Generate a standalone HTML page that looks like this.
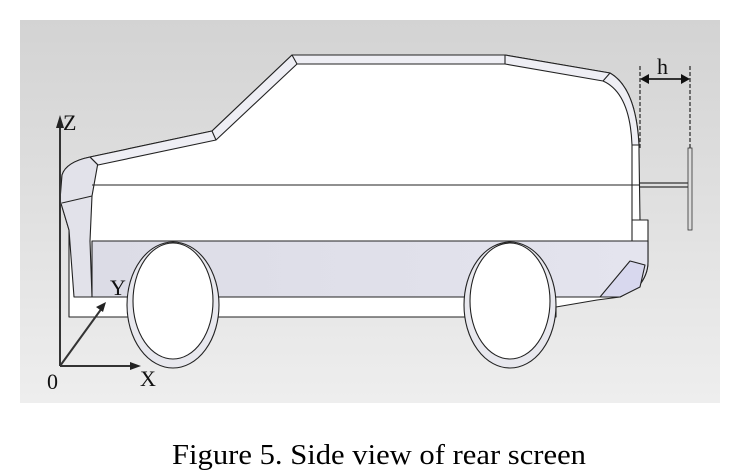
<!DOCTYPE html>
<html><head><style>
body{margin:0;width:741px;height:472px;background:#fff;overflow:hidden}
svg{position:absolute;left:0;top:0}
</style></head><body>
<svg width="741" height="472" viewBox="0 0 741 472">
<defs>
<linearGradient id="bg" x1="0" y1="0" x2="0" y2="1">
<stop offset="0" stop-color="#d3d3d3"/><stop offset="1" stop-color="#eeeeee"/></linearGradient>
<linearGradient id="gr" x1="0" y1="0" x2="1" y2="0">
<stop offset="0" stop-color="#dcdce6"/><stop offset="1" stop-color="#e4e4ee"/></linearGradient>
</defs>
<rect x="20" y="20" width="700" height="383" fill="url(#bg)"/>
<g stroke="#222" stroke-width="1.1" stroke-linejoin="round">
<path d="M292,55 L505,55 L610,73 Q636,88 639,145 L639,152 L640,220 L648,220 L648,262 Q648,275 638,287 L620,297 L597,300 L556,307 L556,317 L69,317 L69,230 L60,200 L62,175 Q66,162 90,157 L212,131 Z" fill="#fff"/>
<path d="M92,241 L648,241 L648,262 Q648,275 638,287 L620,297 L600,297 L92,297 Z" fill="url(#gr)"/>
<path d="M62,175 Q66,162 90,157 L99,157 L92,196 L90,241 L92,297 L74,297 L69,230 L60,200 Z" fill="#e2e2ea"/>
<path d="M292,55 L505,55 L610,73 Q636,88 639,145 L632,145 Q630,93 603,81 L505,64 L297,64 L216,140 L98,165 L90,157 L212,131 Z" fill="#eeeef4"/>
<path d="M297,64 L292,55 M505,64 L505,55 M603,81 L610,73 M216,140 L212,131 M98,165 L90,157" fill="none"/>
<line x1="92" y1="185" x2="640" y2="185"/>
<line x1="92" y1="241" x2="648" y2="241"/>
<path d="M632,145 L632,220 L640,220" fill="none"/>
<line x1="632" y1="241" x2="632" y2="220"/>
<path d="M630,261 L645,265 L640,287 L620,297 L600,297 Z" fill="#d8d8ee"/>
<line x1="62" y1="203" x2="92" y2="196"/>
<ellipse cx="173" cy="305" rx="46" ry="63" fill="#e8e8ee"/>
<ellipse cx="173" cy="301" rx="40" ry="58" fill="#fff"/>
<ellipse cx="510" cy="305" rx="46" ry="63" fill="#e8e8ee"/>
<ellipse cx="510" cy="301" rx="40" ry="58" fill="#fff"/>
</g>
<g stroke="#333" stroke-width="1.3">
<line x1="640" y1="66" x2="640" y2="148" stroke-dasharray="4,2"/>
<line x1="690" y1="66" x2="690" y2="148" stroke-dasharray="4,2"/>
<line x1="640" y1="183" x2="688" y2="183"/><line x1="640" y1="187" x2="688" y2="187"/>
<rect x="688" y="148" width="4" height="82" fill="#ddd" stroke-width="0.8"/>
<line x1="645" y1="79" x2="685" y2="79" stroke-width="2"/>
</g>
<path d="M640,79 L649,74 L649,84 Z M690,79 L681,74 L681,84 Z" fill="#111"/>
<text x="657" y="74" font-family="Liberation Serif" font-size="22" fill="#111">h</text>
<g stroke="#333" stroke-width="2">
<line x1="60" y1="366" x2="60" y2="125"/>
<line x1="60" y1="366" x2="133" y2="366"/>
<line x1="60" y1="366" x2="102" y2="308"/>
</g>
<path d="M60,115 L56,128 L64,128 Z M141,366 L130,362 L130,370 Z M106,302 L96,307 L103,312 Z" fill="#222"/>
<g font-family="Liberation Serif" font-size="22" fill="#111">
<text x="63" y="130">Z</text><text x="110" y="295">Y</text><text x="140" y="386">X</text><text x="47" y="389">0</text>
</g>
<text x="172" y="464" textLength="414" lengthAdjust="spacingAndGlyphs" font-family="Liberation Serif" font-size="28" fill="#000">Figure 5. Side view of rear screen</text>
</svg>
</body></html>
